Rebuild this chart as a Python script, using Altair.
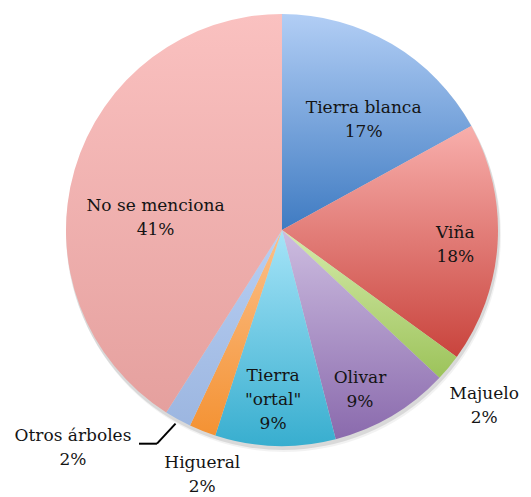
import math
import altair as alt
import pandas as pd

# ---- data ----
categories = ["Tierra blanca", "Viña", "Majuelo", "Olivar", 'Tierra "ortal"',
              "Higueral", "Otros árboles", "No se menciona"]
values = [17, 18, 2, 9, 9, 2, 2, 41]
label_lines = ["Tierra blanca\n17%", "Viña\n18%", "Majuelo\n2%", "Olivar\n9%",
               'Tierra\n"ortal"\n9%', "Higueral\n2%", "Otros árboles\n2%",
               "No se menciona\n41%"]

# ---- style ----
grad_top = ["#b2cef5", "#f8afac", "#d6ebab", "#cdbde0", "#a6e4f8", "#fbc08a", "#b8cff3", "#fac1c0"]
grad_bottom = ["#3f7bc2", "#c9443d", "#9cc35a", "#8a6aad", "#38aecf", "#f49233", "#9cb6e0", "#e5a09e"]
label_nudge_deg = [6, 1.4, 1.4, 4.6, 1.2, -3.6, 15, -11]
label_radius = [137, 174, 268, 178, 170, 258, 302, 127]

W, H = 510, 476
CX, CY = 274, 222
R = 216
FONT = "DejaVu Serif"
LH = 24

total = sum(values)
rows = []
cum = 0
for i, (c, v, lab) in enumerate(zip(categories, values, label_lines)):
    mid = (cum + v / 2) / total * 2 * math.pi
    cum += v
    ang = mid + math.radians(label_nudge_deg[i])
    # block centre -> first-line position (vega anchors first line)
    bx = label_radius[i] * math.sin(ang)
    by = -label_radius[i] * math.cos(ang) - (lab.count("\n")) * LH / 2
    rows.append({"cat": c, "value": v, "order": i, "label": lab,
                 "mid": mid,
                 "labang": math.atan2(bx, -by),
                 "lr": math.hypot(bx, by)})
df = pd.DataFrame(rows)

# gradient fill per slice
w = None
for i, (t, b) in enumerate(zip(grad_top, grad_bottom)):
    g = alt.value({"gradient": "linear", "x1": 0, "y1": 0, "x2": 0, "y2": 1,
                   "stops": [{"offset": 0, "color": t}, {"offset": 1, "color": b}]})
    cond = alt.datum.order == i
    w = alt.when(cond).then(g) if w is None else w.when(cond).then(g)
fill = w.otherwise(alt.value("#cccccc"))

base = alt.Chart(df)

shadow1 = alt.Chart(pd.DataFrame({"v": [1]})).mark_arc(
    outerRadius=R + 1, color="#000000", opacity=0.10
).encode(theta=alt.value(0), theta2=alt.value(2 * math.pi),
         x=alt.value(CX + 1), y=alt.value(CY + 3))
shadow2 = alt.Chart(pd.DataFrame({"v": [1]})).mark_arc(
    outerRadius=R + 1, color="#000000", opacity=0.05
).encode(theta=alt.value(0), theta2=alt.value(2 * math.pi),
         x=alt.value(CX + 2), y=alt.value(CY + 5))

pie = base.mark_arc(outerRadius=R).encode(
    theta=alt.Theta("value:Q", stack=True),
    order=alt.Order("order:Q"),
    fill=fill,
    x=alt.value(CX), y=alt.value(CY),
)

labels = base.mark_text(font=FONT, fontSize=17, color="#141414",
                        lineBreak="\n", lineHeight=LH,
                        align="center", baseline="middle").encode(
    text="label:N",
    theta=alt.Theta("labang:Q", scale=None),
    radius=alt.Radius("lr:Q", scale=None),
    x=alt.value(CX), y=alt.value(CY),
)

# leader line for "Otros árboles"
o = df[df["cat"] == "Otros árboles"].iloc[0]
a = o["mid"]
p1 = (CX + 221 * math.sin(a), CY - 221 * math.cos(a))
p2 = (CX + 245 * math.sin(a) - 7, CY - 245 * math.cos(a) - 1)
leader_df = pd.DataFrame({"x": [p1[0], p2[0]], "y": [p1[1], p2[1]],
                          "x2": [p2[0], p2[0] - 18], "y2": [p2[1], p2[1]]})
leader = alt.Chart(leader_df).mark_rule(color="#000000", strokeWidth=2).encode(
    x=alt.X("x:Q", scale=None), y=alt.Y("y:Q", scale=None),
    x2="x2:Q", y2="y2:Q",
)

chart = alt.layer(shadow2, shadow1, pie, labels, leader).resolve_scale(
    theta="independent"
).properties(
    width=W, height=H, padding=0,
).configure_view(stroke=None)

chart.save("out.html", embed_options={"renderer": "svg", "actions": False})
